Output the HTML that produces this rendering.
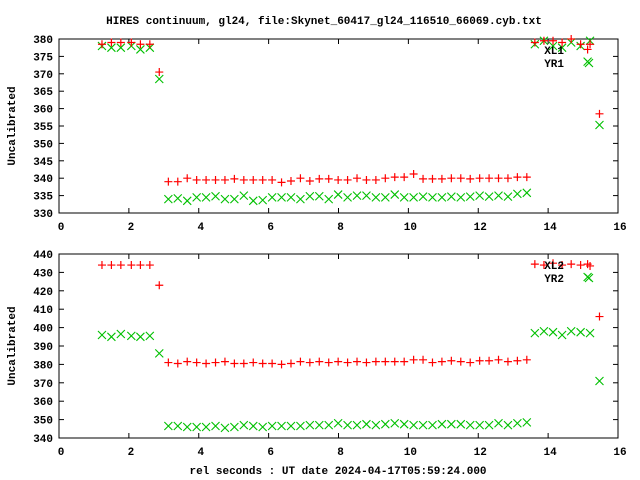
<!DOCTYPE html>
<html><head><meta charset="utf-8"><style>
html,body{margin:0;padding:0;background:#fff}
svg{display:block}
text{font-family:"Liberation Mono",monospace;font-weight:bold;font-size:11px;fill:#000}
</style></head><body>
<svg id="chart" width="640" height="480" xmlns="http://www.w3.org/2000/svg">
<text x="324" y="24" text-anchor="middle">HIRES continuum, gl24, file:Skynet_60417_gl24_116510_66069.cyb.txt</text>
<text x="338" y="474" text-anchor="middle">rel seconds : UT date 2024-04-17T05:59:24.000</text>
<g id="g1"></g>
<g id="g2"></g>
</svg>
<script>
const tStart=[1.23,1.5,1.77,2.07,2.33,2.6,2.87];
const tMid=[3.13,3.40,3.67,3.94,4.21,4.48,4.75,5.02,5.29,5.56,5.83,6.10,6.37,6.64,6.91,7.18,7.45,7.72,7.99,8.26,8.53,8.80,9.07,9.34,9.61,9.88,10.15,10.42,10.69,10.96,11.23,11.50,11.77,12.04,12.31,12.58,12.85,13.12,13.39];
const tEnd=[13.62,13.88,14.14,14.4,14.66,14.93,15.13,15.2,15.47];
const xl1=[378.5,379,379,379,378.5,378.5,370.5,
339,339,340,339.5,339.5,339.5,339.5,339.8,339.5,339.5,339.5,339.5,338.8,339.2,340,339.2,339.8,339.8,339.5,339.5,340,339.5,339.5,340,340.3,340.3,341.2,339.8,339.8,339.8,340,340,339.8,340,340,340,340,340.3,340.3,
379,379.5,379.5,379,380,378.5,377,378.5,358.5];
const yr1=[378,377.5,377.5,378,377,377.5,368.5,
334,334.2,333.5,334.5,334.5,334.8,334,334,335,333.5,333.7,334.5,334.5,334.5,334,334.8,334.8,334,335.3,334.5,335,335,334.5,334.5,335.3,334.5,334.5,334.7,334.5,334.5,334.7,334.5,334.7,335,334.7,335,334.7,335.5,335.8,
378.5,379.5,378,377.5,379,378,373.5,379.5,355.3];
const xl2=[434,434,434,434,434,434,423,
381,380.5,381.5,381,380.5,381,381.5,380.5,380.5,381,380.5,380.5,380,380.5,381.5,381,381.5,381,381.5,381,381.5,381,381.5,381.5,381.5,381.5,382.5,382.5,381,381.5,382,381.5,381,382,382,382.5,381.5,382,382.5,
434.5,434,435,434,434.5,434,434.5,433.5,406];
const yr2=[396,395,396.5,395.5,395,395.5,386,
346.5,346.5,346,346,346,346.5,345.5,346,347,346.5,346,346.5,346.5,346.5,346.5,347,347,347,348,347,347,347.5,347,347.5,348,347.5,347,347,347,347.5,347.5,347.5,347,347,347,348,347,348,348.5,
397,398,397.5,396,398,397.5,427.5,397,371];
const xTicks=[0,2,4,6,8,10,12,14,16];
const yTicks1=[330,335,340,345,350,355,360,365,370,375,380];
const yTicks2=[340,350,360,370,380,390,400,410,420,430,440];
const times=tStart.concat(tMid,tEnd);
const NS="http://www.w3.org/2000/svg";
function el(tag,attrs,parent){const e=document.createElementNS(NS,tag);for(const k in attrs)e.setAttribute(k,attrs[k]);parent.appendChild(e);return e;}
function panel(g,top,bot,ymin,ymax,yTicks,s1,s2,n1,n2){
  const L=59,R=618;
  const xs=v=>L+(v-0)/(16-0)*(R-L);
  const ys=v=>bot-(v-ymin)/(ymax-ymin)*(bot-top);
  const fr=el('rect',{x:L,y:top,width:R-L,height:bot-top,fill:'none',stroke:'#000','stroke-width':1},g);
  
  
  xTicks.forEach(v=>{
    const x=xs(v);
    el('line',{x1:x,y1:bot,x2:x,y2:bot-5,stroke:'#000'},g);
    el('line',{x1:x,y1:top,x2:x,y2:top+5,stroke:'#000'},g);
    const t=el('text',{x:x+2,y:bot+17,'text-anchor':'middle'},g);t.textContent=v;
    
    
  });
  yTicks.forEach(v=>{
    const y=ys(v);
    el('line',{x1:L,y1:y,x2:L+5,y2:y,stroke:'#000'},g);
    el('line',{x1:R,y1:y,x2:R-5,y2:y,stroke:'#000'},g);
    const t=el('text',{x:53,y:y+4,'text-anchor':'end'},g);t.textContent=v;
    
    
  });
  const yt=el('text',{x:0,y:0,'text-anchor':'middle',transform:`translate(15,${(top+bot)/2}) rotate(-90)`},g);
  yt.textContent='Uncalibrated';
  
  
  function plus(x,y,c){const p=el('path',{d:`M${x-4},${y}h8M${x},${y-4}v8`,stroke:c,'stroke-width':1.2,fill:'none'},g);return p;}
  function cross(x,y,c){const p=el('path',{d:`M${x-4},${y-4}l8,8M${x-4},${y+4}l8,-8`,stroke:c,'stroke-width':1.1,fill:'none'},g);return p;}
  s2.forEach((v,i)=>{const p=cross(xs(times[i]),ys(v),'#00c000');
    
    });
  s1.forEach((v,i)=>{const p=plus(xs(times[i]),ys(v),'#ff0000');
    
    });
  const l1=el('text',{x:564,y:top+15,'text-anchor':'end'},g);l1.textContent=n1;
  
  
  const l2=el('text',{x:564,y:top+28,'text-anchor':'end'},g);l2.textContent=n2;
  
  
  const ls=cross(589,top+24,'#00c000');
  
  
}
panel(document.getElementById('g1'),39,213,330,380,yTicks1,xl1,yr1,'XL1','YR1');
panel(document.getElementById('g2'),254,438,340,440,yTicks2,xl2,yr2,'XL2','YR2');
</script>
</body></html>
